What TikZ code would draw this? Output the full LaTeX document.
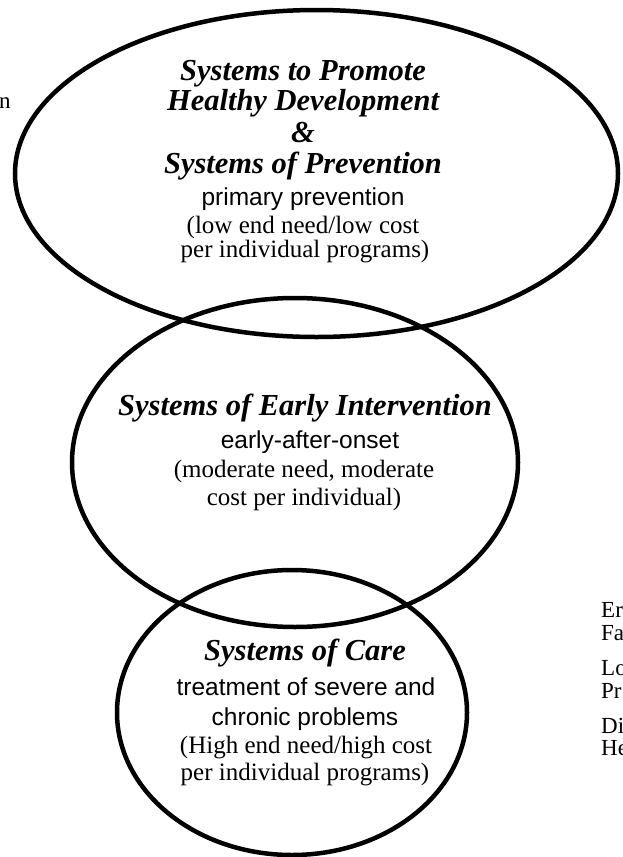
\documentclass[tikz,border=0pt]{standalone}
\usepackage{fontspec}
\setmainfont{Liberation Serif}
\newfontfamily\sansf{Liberation Sans}
\usetikzlibrary{shapes.geometric}
\begin{document}
\begin{tikzpicture}[x=1pt,y=-1pt,
  ring/.style={draw, line width=4.5pt, ellipse, inner sep=0pt, outer sep=0pt},
  head/.style={font=\fontsize{30.5}{30.5}\selectfont\bfseries\itshape, anchor=base, inner sep=0pt},
  srf/.style={font=\fontsize{25}{25}\selectfont, anchor=base, inner sep=0pt},
  snsf/.style={font=\fontsize{24.5}{24.5}\selectfont\sansf, anchor=base, inner sep=0pt},
  side/.style={font=\fontsize{23}{23}\selectfont, anchor=base west, inner sep=0pt}]
\useasboundingbox (0,0) rectangle (622,857);
\fill[white] (0,0) rectangle (622,857);

% ellipses
\node[ring, minimum width=603pt, minimum height=327pt] (e1) at (316.5,173.5) {};
\node[ring, minimum width=446pt, minimum height=329pt] (e2) at (295,462.5) {};
\node[ring, minimum width=350pt, minimum height=285pt] (e3) at (292,712.5) {};

% top ellipse text
\node[head] (t1a) at (303,80) {Systems to Promote};
\node[head] (t1b) at (303,110) {Healthy Development};
\node[head] (t1c) at (303,142) {\&};
\node[head] (t1d) at (303,173) {Systems of Prevention};
\node[snsf] (t1e) at (303,205) {primary prevention};
\node[srf]  (t1f) at (303,233) {(low end need/low cost};
\node[srf]  (t1g) at (305,257) {per individual programs)};

% middle ellipse text
\node[head] (t2a) at (305,415) {Systems of Early Intervention};
\node[snsf] (t2b) at (310,448) {early-after-onset};
\node[srf]  (t2c) at (304,477) {(moderate need, moderate};
\node[srf]  (t2d) at (304,505) {cost per individual)};

% bottom ellipse text
\node[head] (t3a) at (305,660) {Systems of Care};
\node[snsf] (t3b) at (306,695) {treatment of severe and};
\node[snsf] (t3c) at (305,725) {chronic problems};
\node[srf]  (t3d) at (306,753) {(High end need/high cost};
\node[srf]  (t3e) at (305,780) {per individual programs)};

% clipped side texts
\node[side] (l1) at (-1,108) {n};
\node[side] (r1) at (601,617) {Er};
\node[side] (r2) at (601,640) {Fa};
\node[side] (r3) at (601,675) {Lo};
\node[side] (r4) at (601,698) {Pr};
\node[side] (r5) at (601,733) {Di};
\node[side] (r6) at (601,755) {He};
\end{tikzpicture}
\end{document}
